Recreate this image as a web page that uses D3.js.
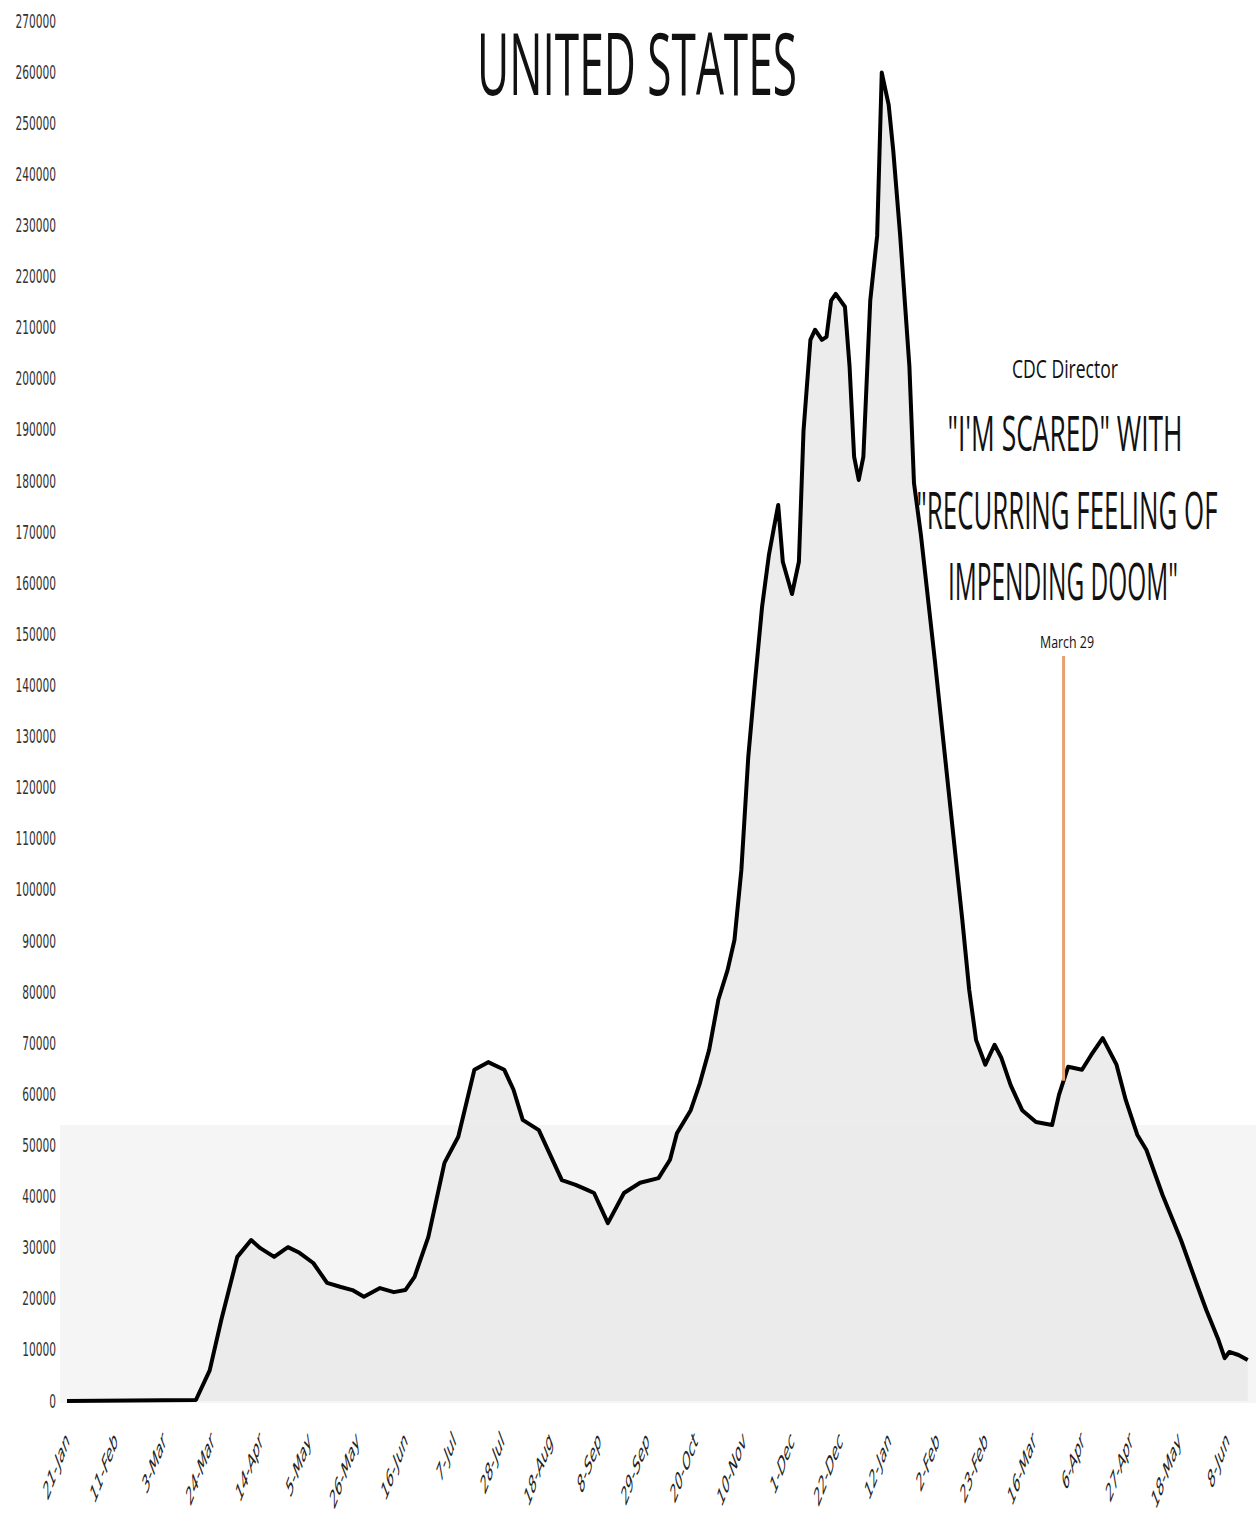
<!DOCTYPE html>
<html>
<head>
<meta charset="utf-8">
<script src="https://cdn.jsdelivr.net/npm/d3@7"></script>
<style>
  html, body { margin: 0; padding: 0; background: #ffffff; }
  svg { display: block; }
</style>
</head>
<body>
<svg id="chart" width="1256" height="1520"></svg>
<script>
// ---------- DATA ----------
const dates = [
  "2020-01-21","2020-03-17","2020-03-23","2020-03-28","2020-04-04","2020-04-10","2020-04-14","2020-04-20",
  "2020-04-26","2020-05-01","2020-05-07","2020-05-13","2020-05-19","2020-05-24","2020-05-29","2020-06-05",
  "2020-06-11","2020-06-16","2020-06-20","2020-06-26","2020-07-03","2020-07-09","2020-07-16","2020-07-22",
  "2020-07-29","2020-08-02","2020-08-06","2020-08-13","2020-08-18","2020-08-23","2020-08-29","2020-09-03",
  "2020-09-06","2020-09-12","2020-09-19","2020-09-26","2020-10-04","2020-10-09","2020-10-12","2020-10-18",
  "2020-10-22","2020-10-26","2020-10-30","2020-11-03","2020-11-06","2020-11-09","2020-11-12","2020-11-15",
  "2020-11-18","2020-11-21","2020-11-23","2020-11-25","2020-11-27","2020-12-01","2020-12-04","2020-12-06",
  "2020-12-09","2020-12-11","2020-12-14","2020-12-16","2020-12-18","2020-12-20","2020-12-24","2020-12-26",
  "2020-12-28","2020-12-30","2021-01-01","2021-01-04","2021-01-07","2021-01-09","2021-01-12","2021-01-14",
  "2021-01-17","2021-01-21","2021-01-23","2021-01-26","2021-02-01","2021-02-07","2021-02-13","2021-02-16",
  "2021-02-19","2021-02-23","2021-02-27","2021-03-02","2021-03-06","2021-03-11","2021-03-17","2021-03-24",
  "2021-03-27","2021-03-31","2021-04-06","2021-04-10","2021-04-15","2021-04-21","2021-04-25","2021-04-30",
  "2021-05-04","2021-05-11","2021-05-19","2021-05-26","2021-05-30","2021-06-04","2021-06-07","2021-06-09",
  "2021-06-13","2021-06-17"
];
const cases = [
  0,200,6000,15800,28200,31500,29900,28200,
  30100,29000,27000,23100,22300,21700,20400,22100,
  21300,21700,24300,32100,46600,51700,64800,66300,
  64800,60900,55000,53000,48100,43200,42300,41300,
  40700,34800,40700,42700,43600,47200,52400,56900,
  62200,68700,78500,84300,90200,103900,126000,141100,
  155400,165600,170500,175300,164200,157900,164200,189800,
  207600,209600,207600,208200,215300,216600,214100,202500,
  184700,180200,184700,215300,228000,259900,253600,244600,
  228000,202500,179600,169500,145200,119600,94100,80400,
  70600,65800,69700,67100,61800,56900,54600,54000,
  59900,65400,64800,67700,71000,65800,58900,52100,
  49100,40300,31500,22700,17800,12300,8400,9600,
  9000,8000
];
const xTickDates = [
  "2020-01-21","2020-02-11","2020-03-03","2020-03-24","2020-04-14","2020-05-05","2020-05-26","2020-06-16",
  "2020-07-07","2020-07-28","2020-08-18","2020-09-08","2020-09-29","2020-10-20","2020-11-10","2020-12-01",
  "2020-12-22","2021-01-12","2021-02-02","2021-02-23","2021-03-16","2021-04-06","2021-04-27","2021-05-18",
  "2021-06-08"
];
const yTickValues = d3.range(0, 270001, 10000);
const titleText = "UNITED STATES";
const annotationLines = ["CDC Director", "\"I'M SCARED\" WITH", "\"RECURRING FEELING OF", "IMPENDING DOOM\""];
const annotationDate = "2021-03-29";
const annotationDateLabel = "March 29";

// ---------- SCALES ----------
const parse = d3.timeParse("%Y-%m-%d");
const data = dates.map((d, i) => ({ date: parse(d), value: cases[i] }));

const x = d3.scaleTime()
  .domain([parse("2020-01-21"), parse("2021-06-08")])
  .range([67, 1227]);
const y = d3.scaleLinear()
  .domain([0, 270000])
  .range([1401, 21]);

const svg = d3.select("#chart");

// background tint of the lower band
svg.append("rect")
  .attr("x", 60).attr("y", y(54000))
  .attr("width", 1196).attr("height", y(0) - y(54000) + 2)
  .attr("fill", "#f5f5f5");

// area under the curve
const area = d3.area()
  .x(d => x(d.date))
  .y0(y(0))
  .y1(d => y(d.value));
svg.append("path")
  .datum(data)
  .attr("d", area)
  .attr("fill", "#e9e9e9")
  .attr("opacity", 0.85);

// ---------- AXES ----------
const yAxis = d3.axisLeft(y).tickValues(yTickValues).tickSize(0).tickPadding(0).tickFormat(d3.format("d"));
const gy = svg.append("g").attr("transform", "translate(56,0)").call(yAxis);
gy.select(".domain").remove();
gy.selectAll("text")
  .attr("x", 0)
  .attr("font-family", "DejaVu Sans, sans-serif")
  .attr("font-size", 19)
  .attr("fill", "#333")
  .attr("transform", "scale(0.56,1)");

const xAxis = d3.axisBottom(x).tickValues(xTickDates.map(parse)).tickSize(0).tickFormat(d3.timeFormat("%-d-%b"));
const gx = svg.append("g").attr("transform", "translate(0,1436)").call(xAxis);
gx.select(".domain").remove();
gx.selectAll("text")
  .attr("x", 0).attr("y", 0).attr("dy", "0.35em")
  .attr("text-anchor", "end")
  .attr("font-family", "DejaVu Sans, sans-serif")
  .attr("font-size", 26)
  .attr("fill", "#222")
  .attr("transform", "scale(0.38,1) rotate(-45)");

// ---------- LINE ----------
const line = d3.line()
  .x(d => x(d.date))
  .y(d => y(d.value));
svg.append("path")
  .datum(data)
  .attr("d", line)
  .attr("fill", "none")
  .attr("stroke", "#000")
  .attr("stroke-width", 4)
  .attr("stroke-linejoin", "round");

// ---------- ANNOTATION ----------
const aDate = parse(annotationDate);
const bis = d3.bisector(d => d.date).left;
const j = bis(data, aDate);
const p0 = data[j - 1], p1 = data[j];
const t = (aDate - p0.date) / (p1.date - p0.date);
const aVal = p0.value + t * (p1.value - p0.value);
const ax = x(aDate);

svg.append("line")
  .attr("x1", ax).attr("x2", ax)
  .attr("y1", 656).attr("y2", y(aVal))
  .attr("stroke", "#e5a06e")
  .attr("stroke-width", 3);

// condensed text: fit the natural width to w, stretch vertically to reach cap height h
function fitText(text, cx, baseline, w, h, family, fill) {
  const F = h / 0.714;
  const el = svg.append("text")
    .attr("x", 0).attr("y", 0)
    .attr("text-anchor", "middle")
    .attr("font-family", family)
    .attr("font-size", F)
    .attr("fill", fill)
    .text(text);
  const W = el.node().getComputedTextLength();
  const f = F * w / W;
  const k = F / f;
  el.attr("font-size", f)
    .attr("transform", `translate(${cx},${baseline}) scale(1,${k})`);
  return el;
}

const ann = [
  { text: annotationLines[0], cx: 1065, y: 378, w: 106, h: 18 },
  { text: annotationLines[1], cx: 1065, y: 451, w: 235, h: 35 },
  { text: annotationLines[2], cx: 1067, y: 529, w: 301, h: 37 },
  { text: annotationLines[3], cx: 1063, y: 600, w: 230, h: 37 },
  { text: annotationDateLabel, cx: 1067, y: 648, w: 54, h: 12 }
];
ann.forEach(a => fitText(a.text, a.cx, a.y, a.w, a.h, "Open Sans, sans-serif", "#111"));

// ---------- TITLE ----------
fitText(titleText, 637, 95, 320, 62, "Open Sans, sans-serif", "#111");
</script>
</body>
</html>
